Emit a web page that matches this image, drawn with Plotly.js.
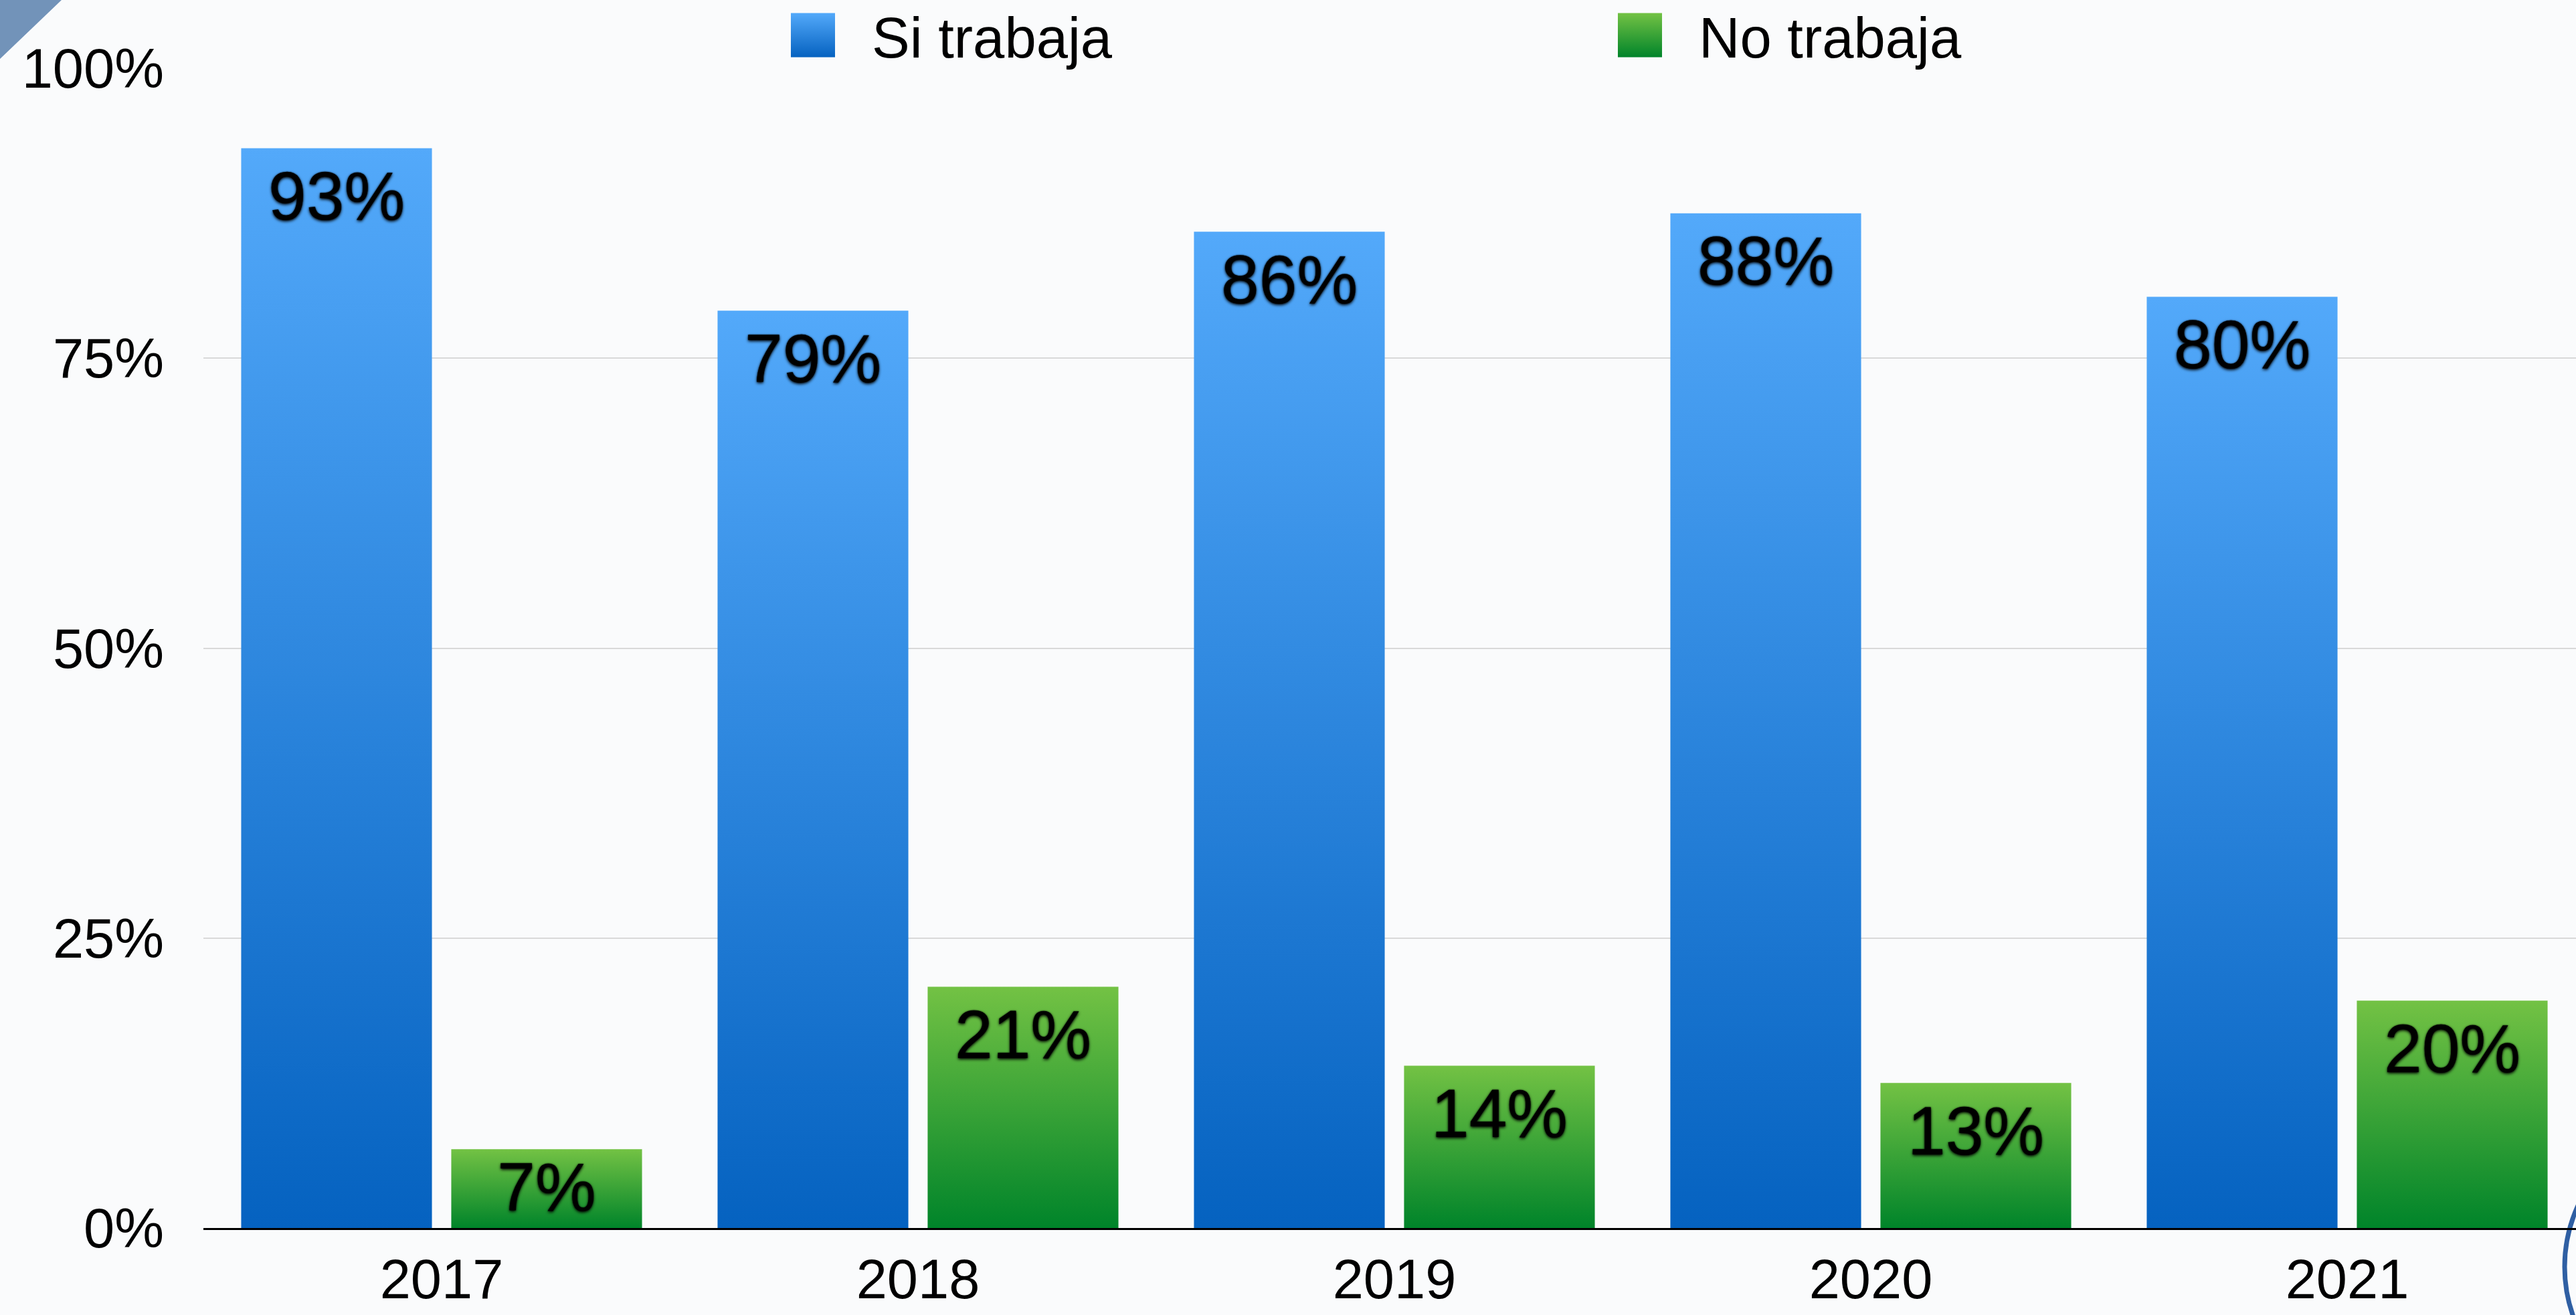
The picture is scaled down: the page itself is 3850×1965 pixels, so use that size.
<!DOCTYPE html>
<html>
<head>
<meta charset="utf-8">
<script src="https://cdn.plot.ly/plotly-3.0.1.min.js"></script>
<style>
html,body{margin:0;padding:0;background:#fafbfc;}
#chart{width:3850px;height:1965px;}
</style>
</head>
<body>
<div id="chart"></div>
<script>
// ---- data ----
const years = ['2017', '2018', '2019', '2020', '2021'];
const siTrabaja = [93.1, 79.1, 85.9, 87.5, 80.3];
const noTrabaja = [6.8, 20.8, 14.0, 12.5, 19.6];
const seriesNames = ['Si trabaja', 'No trabaja'];
const yTickVals = [0, 25, 50, 75, 100];
const yTickText = ['0%', '25%', '50%', '75%', '100%'];

// ---- geometry helpers (decoration only) ----
const W = 3850, H = 1965;
const M = {l: 304, r: 0, t: 102, b: 130};
const PW = W - M.l - M.r, PH = H - M.t - M.b;
const px = x => (x - M.l) / PW;
const py = y => (H - M.b - y) / PH;

const FONT = 'Liberation Sans, Arial, Helvetica, sans-serif';
const LABEL_SIZE = 102;
const LABEL_SHADOW = '0px 2px 4px rgba(0,0,0,0.95), 0px 0px 2px rgba(0,0,0,0.9)';

const data = [
  {
    type: 'bar', name: seriesNames[0], x: years, y: siTrabaja,
    marker: {color: '#2E86DE', line: {width: 0}},
    texttemplate: '%{y:.0f}%', textposition: 'inside', insidetextanchor: 'end',
    constraintext: 'none', textangle: 0, cliponaxis: false,
    textfont: {family: FONT, size: LABEL_SIZE, color: '#000', shadow: LABEL_SHADOW},
    hoverinfo: 'skip'
  },
  {
    type: 'bar', name: seriesNames[1], x: years, y: noTrabaja,
    marker: {color: '#3AA33A', line: {width: 0}},
    texttemplate: '%{y:.0f}%', textposition: 'inside', insidetextanchor: 'end',
    constraintext: 'none', textangle: 0, cliponaxis: false,
    textfont: {family: FONT, size: LABEL_SIZE, color: '#000', shadow: LABEL_SHADOW},
    hoverinfo: 'skip'
  }
];

const layout = {
  width: W, height: H,
  margin: {l: M.l, r: M.r, t: M.t, b: M.b, pad: 0, autoexpand: false},
  paper_bgcolor: '#fafbfc',
  plot_bgcolor: 'rgba(0,0,0,0)',
  font: {family: FONT, color: '#000'},
  barmode: 'group',
  bargap: 0.118,
  bargroupgap: 0.092,
  showlegend: true,
  legend: {
    orientation: 'h',
    xref: 'container', x: 1127 / W, xanchor: 'left',
    yref: 'paper', y: (PH + M.t + 9.3) / PH, yanchor: 'top',
    font: {family: FONT, size: 85, color: '#000'},
    itemwidth: 166,
    entrywidth: 1055, entrywidthmode: 'pixels',
    bgcolor: 'rgba(0,0,0,0)', borderwidth: 0,
    traceorder: 'normal'
  },
  xaxis: {
    type: 'category',
    range: [-0.5, -0.5 + PW / 712],
    showgrid: false, zeroline: false,
    showline: true, linecolor: '#000', linewidth: 3,
    ticks: '',
    tickfont: {family: FONT, size: 83, color: '#000'},
    ticklabelstandoff: 2,
    fixedrange: true
  },
  yaxis: {
    range: [0, 100],
    tickvals: yTickVals, ticktext: yTickText,
    showgrid: true, gridcolor: '#d9d9d9', gridwidth: 2,
    zeroline: false, showline: false,
    ticks: '',
    tickfont: {family: FONT, size: 83, color: '#000'},
    ticklabelstandoff: 58,
    fixedrange: true
  },
  shapes: [
    {
      type: 'path', xref: 'paper', yref: 'paper', layer: 'below',
      path: `M${px(0)},${py(0)} L${px(92)},${py(0)} L${px(0)},${py(88)} Z`,
      fillcolor: '#7293b9', line: {width: 0}
    },
    {
      type: 'circle', xref: 'paper', yref: 'paper', layer: 'below',
      x0: px(3833), x1: px(4273), y0: py(1673), y1: py(2113),
      fillcolor: 'rgba(0,0,0,0)', line: {color: '#2f5fa3', width: 7}
    }
  ]
};

const gd = document.getElementById('chart');
Plotly.newPlot(gd, data, layout, {staticPlot: true, displayModeBar: false}).then(finishStyling);

function finishStyling() {
  const NS = 'http://www.w3.org/2000/svg';
  const svg = gd.querySelector('svg.main-svg');
  let defs = svg.querySelector('defs');
  if (!defs) { defs = document.createElementNS(NS, 'defs'); svg.insertBefore(defs, svg.firstChild); }
  function grad(id, stops) {
    const g = document.createElementNS(NS, 'linearGradient');
    g.setAttribute('id', id);
    g.setAttribute('x1', '0'); g.setAttribute('y1', '0');
    g.setAttribute('x2', '0'); g.setAttribute('y2', '1');
    stops.forEach(([o, c]) => {
      const s = document.createElementNS(NS, 'stop');
      s.setAttribute('offset', o); s.setAttribute('stop-color', c);
      g.appendChild(s);
    });
    defs.appendChild(g);
  }
  grad('gBlue', [[0, '#53a9fa'], [1, '#0562c0']]);
  grad('gGreen', [[0, '#73c244'], [1, '#00842a']]);
  const ids = ['gBlue', 'gGreen'];

  // gradient fills + label placement (cap top ~34px under the bar top, centred if the bar is short)
  const CAP = 0.716 * LABEL_SIZE, ASC_GAP = (0.905 - 0.716) * LABEL_SIZE;
  gd.querySelectorAll('.barlayer .trace').forEach((t, i) => {
    t.querySelectorAll('.point').forEach(pt => {
      const path = pt.querySelector('path');
      const txt = pt.querySelector('text');
      if (path) path.style.fill = 'url(#' + ids[i] + ')';
      if (path && txt) {
        const pr = path.getBoundingClientRect();
        const tr = txt.getBoundingClientRect();
        const capTop = tr.top + ASC_GAP;
        let want = pr.top + 34;
        if (pr.height < 34 + CAP + 24) want = pr.top + (pr.height - CAP) / 2 - 3;
        const shift = want - capTop;
        const old = txt.getAttribute('transform') || '';
        txt.setAttribute('transform', 'translate(0,' + shift.toFixed(1) + ') ' + old);
      }
    });
  });
  gd.querySelectorAll('.legend .traces').forEach((t, i) => {
    t.querySelectorAll('.legendpoints path').forEach(p => {
      p.setAttribute('d', 'M33,33H-33V-33H33Z');
      p.style.fill = 'url(#' + ids[i] + ')';
      p.style.strokeWidth = '0';
    });
  });
}
</script>
</body>
</html>
